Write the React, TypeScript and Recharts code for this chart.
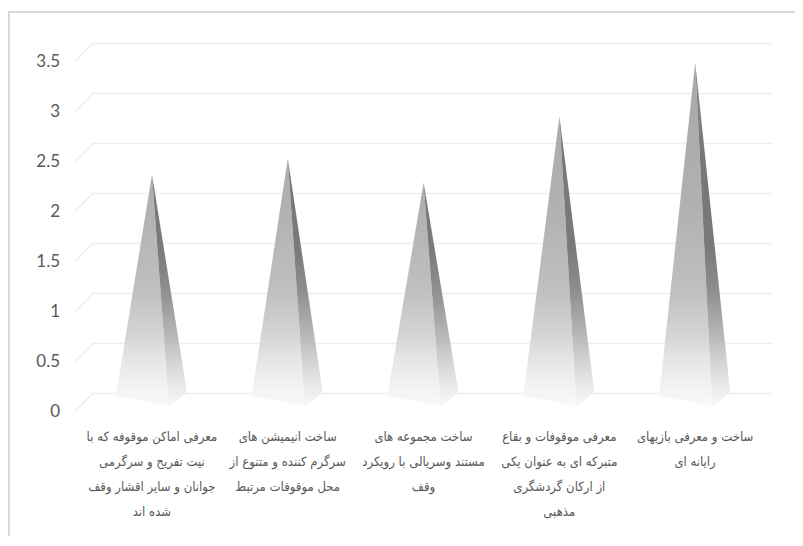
import { BarChart, Bar, XAxis, YAxis, CartesianGrid } from 'recharts';

const CATEGORY_LINES: string[][] = [
  ['معرفی اماکن موقوفه که با', 'نیت تفریح و سرگرمی', 'جوانان و سایر اقشار وقف', 'شده اند'],
  ['ساخت انیمیشن های', 'سرگرم کننده و متنوع از', 'محل موقوفات مرتبط'],
  ['ساخت مجموعه های', 'مستند وسریالی با رویکرد', 'وقف'],
  ['معرفی موقوفات و بقاع', 'متبرکه ای به عنوان یکی', 'از ارکان گردشگری', 'مذهبی'],
  ['ساخت و معرفی بازیهای', 'رایانه ای'],
];
const SCORES = [2.28, 2.44, 2.2, 2.86, 3.4];
const Y_TICKS = [0, 0.5, 1, 1.5, 2, 2.5, 3, 3.5];

const data = CATEGORY_LINES.map((lines, i) => ({ name: lines.join(' '), value: SCORES[i] }));

// half of the fake 3D depth: front plane sits DEPTH below/left, back wall DEPTH above/right
const DEPTH = 9;
const TEXT = '#595959';

const gridLine = (p: any) => {
  const { x1, x2, y1 } = p;
  return (
    <path
      d={`M${x1 - DEPTH},${y1 + DEPTH} L${x1 + DEPTH},${y1 - DEPTH} L${x2 + DEPTH},${y1 - DEPTH}`}
      fill="none"
      stroke="#eeeeee"
      strokeWidth={1.5}
    />
  );
};

function YTick(props: any) {
  const { y, payload } = props;
  return (
    <text x={52} y={y + DEPTH} dy="0.35em" textAnchor="end" fill={TEXT} fontSize={17} fontFamily="Lato">
      {payload.value}
    </text>
  );
}

function XTick(props: any) {
  const { x, y, payload } = props;
  const lines = CATEGORY_LINES[payload.index] ?? [];
  return (
    <text
      x={x}
      y={y}
      textAnchor="middle"
      direction="rtl"
      fill={TEXT}
      fontSize={13}
      fontFamily="'DejaVu Sans Condensed', 'DejaVu Sans'"
    >
      {lines.map((l, i) => (
        <tspan key={i} x={x} dy={i === 0 ? 30 : 25}>
          {l}
        </tspan>
      ))}
    </text>
  );
}

function Pyramid(props: any) {
  const { x, y, width, height } = props;
  const cx = x + width / 2;
  const base = y + height;
  const front = `M${cx},${y} L${cx - 36},${base - 7} L${cx + 17},${base + 4} Z`;
  const side = `M${cx},${y} L${cx + 17},${base + 4} L${cx + 35},${base - 10} Z`;
  return (
    <g>
      <path d={front} fill="url(#pyrFront)" />
      <path d={side} fill="url(#pyrSide)" />
    </g>
  );
}

export default function App() {
  return (
    <div style={{ position: 'relative', width: 787, height: 528 }}>
      <div
        style={{
          position: 'absolute',
          left: 0,
          top: 3,
          right: 0,
          bottom: 0,
          borderLeft: '2px solid #d9d9d9',
          borderTop: '2px solid #d9d9d9',
        }}
      />
      <div style={{ position: 'absolute', left: 0, top: 0 }}>
        <BarChart
          width={787}
          height={528}
          data={data}
          margin={{ top: 44.5, right: 32, bottom: 13.5, left: 16 }}
          barSize={70}
        >
          <defs>
            <linearGradient id="pyrFront" gradientUnits="userSpaceOnUse" x1={0} y1={44} x2={0} y2={400}>
              <stop offset={0} stopColor="#a8a8a8" />
              <stop offset={0.42} stopColor="#b0b0b0" />
              <stop offset={0.67} stopColor="#bfbfbf" />
              <stop offset={0.8} stopColor="#d5d5d5" />
              <stop offset={0.86} stopColor="#e5e5e5" />
              <stop offset={0.94} stopColor="#f2f2f2" />
              <stop offset={1} stopColor="#fafafa" />
            </linearGradient>
            <linearGradient id="pyrSide" gradientUnits="userSpaceOnUse" x1={0} y1={44} x2={0} y2={400}>
              <stop offset={0} stopColor="#8a8a8a" />
              <stop offset={0.3} stopColor="#777777" />
              <stop offset={0.556} stopColor="#7a7a7a" />
              <stop offset={0.67} stopColor="#8f8f8f" />
              <stop offset={0.775} stopColor="#b0b0b0" />
              <stop offset={0.86} stopColor="#d0d0d0" />
              <stop offset={0.94} stopColor="#eaeaea" />
              <stop offset={1} stopColor="#f8f8f8" />
            </linearGradient>
          </defs>
          <CartesianGrid vertical={false} horizontal={gridLine} />
          <XAxis dataKey="name" axisLine={false} tickLine={false} height={120} interval={0} tick={<XTick />} />
          <YAxis
            domain={[0, 3.5]}
            ticks={Y_TICKS}
            interval={0}
            axisLine={false}
            tickLine={false}
            width={60}
            tick={<YTick />}
          />
          <Bar dataKey="value" shape={<Pyramid />} isAnimationActive={false} />
        </BarChart>
      </div>
    </div>
  );
}
